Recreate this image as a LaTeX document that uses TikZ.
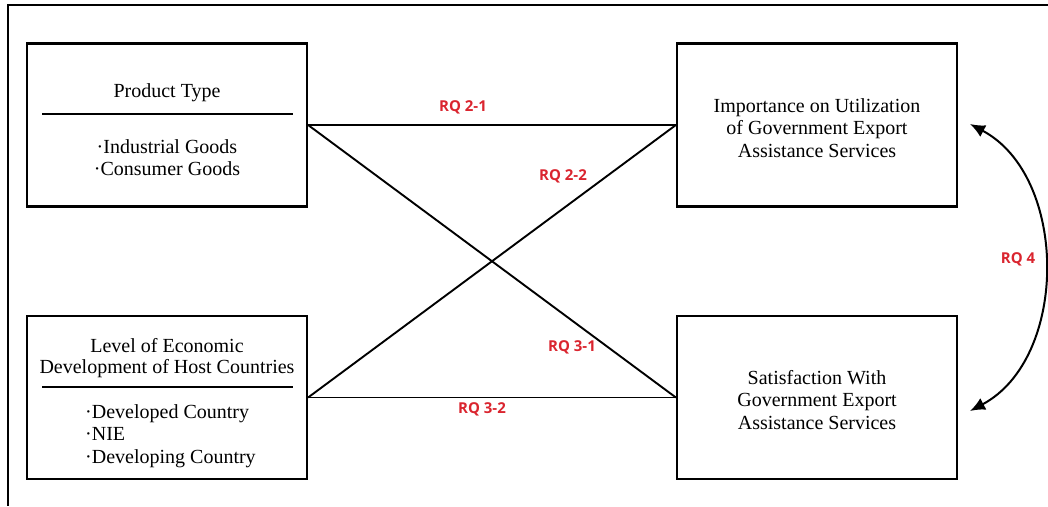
\documentclass[tikz,border=0pt]{standalone}
\usepackage{fontspec}
\setmainfont{Liberation Serif}
\newfontfamily\rqfont{Open Sans}
\usetikzlibrary{arrows.meta}
\definecolor{rqred}{RGB}{218,37,47}
\begin{document}
\begin{tikzpicture}[x=1pt,y=-1pt,
  boxstyle/.style={draw, line width=2.2pt, minimum width=280pt, minimum height=163pt, inner sep=0pt},
  txt/.style={font=\fontsize{20}{22.5}\selectfont, align=center, inner sep=0pt},
  conn/.style={line width=1.9pt},
  rq/.style={text=rqred, font=\rqfont\bfseries\fontsize{15}{17}\selectfont, inner sep=0pt},
  seprule/.style={line width=1.9pt},
  frameline/.style={line width=2.2pt}]
\useasboundingbox (0,0) rectangle (1048,506);
% frame
\coordinate (f1) at (1048,5);
\coordinate (f2) at (8,5);
\coordinate (f3) at (8,506);
\draw[frameline] (f1) -- (f2) -- (f3);

% boxes
\node[boxstyle] (pt) at (167,125) {};
\node[boxstyle] (lev) at (167,397.5) {};
\node[boxstyle] (imp) at (817,125) {};
\node[boxstyle] (sat) at (817,397.5) {};
\node[txt] (impt) at (817,128) {Importance on Utilization\\of Government Export\\Assistance Services};
\node[txt] (satt) at (817,400) {Satisfaction With\\Government Export\\Assistance Services};

% product type contents
\node[txt, anchor=base] (ptt) at (167,97) {Product Type};
\coordinate (pts1) at (42,114);
\coordinate (pts2) at (293,114);
\draw[seprule] (pts1) -- (pts2);
\node[txt, anchor=base] (pti1) at (167,153) {·Industrial Goods};
\node[txt, anchor=base] (pti2) at (167,175.5) {·Consumer Goods};

% level contents
\node[txt, anchor=base] (levt1) at (167,352) {Level of Economic};
\node[txt, anchor=base] (levt2) at (167,373) {Development of Host Countries};
\coordinate (levs1) at (42,387);
\coordinate (levs2) at (293,387);
\draw[seprule] (levs1) -- (levs2);
\node[txt, anchor=base west] (levi1) at (85,418) {·Developed Country};
\node[txt, anchor=base west] (levi2) at (85,440.5) {·NIE};
\node[txt, anchor=base west] (levi3) at (85,463) {·Developing Country};

% connectors
\draw[conn] (pt.east) -- (imp.west);
\draw[conn] (pt.east) -- (sat.west);
\draw[conn] (lev.east) -- (imp.west);
\draw[conn] (lev.east) -- (sat.west);

% curved double arrow
\coordinate (a1) at (970,124);
\coordinate (a2) at (970,411);
\draw[line width=2pt, {Latex[length=15pt,width=13pt]}-{Latex[length=15pt,width=13pt]}] (a1) to[bend left=62] (a2);

% labels
\node[rq] (rq21) at (463,107) {RQ 2-1};
\node[rq] (rq22) at (563,176) {RQ 2-2};
\node[rq] (rq31) at (572,347) {RQ 3-1};
\node[rq] (rq32) at (482,409) {RQ 3-2};
\node[rq] (rq4) at (1018,259) {RQ 4};
\end{tikzpicture}
\end{document}
